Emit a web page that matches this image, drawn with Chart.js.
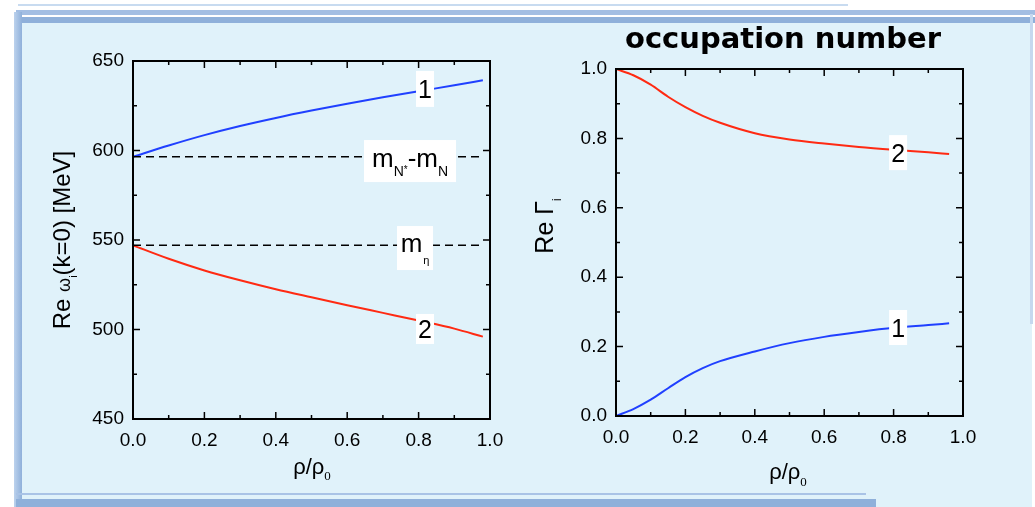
<!DOCTYPE html>
<html>
<head>
<meta charset="utf-8">
<script src="https://cdn.jsdelivr.net/npm/chart.js@4"></script>
<style>
  html, body { margin: 0; padding: 0; background: #fff; }
  body { width: 1035px; height: 507px; position: relative; overflow: hidden; }
  .abs { position: absolute; }
  #panel { left: 20px; top: 22px; width: 1012px; height: 485px; background: #e0f2fa; }
</style>
</head>
<body>
<div id="panel" class="abs"></div>
<!-- sketchy frame -->
<div class="abs" style="left:18px;top:4px;width:830px;height:2px;background:#c8dbf0"></div>
<div class="abs" style="left:16px;top:10px;width:1019px;height:5px;background:#a3bee3"></div>
<div class="abs" style="left:16px;top:17px;width:1019px;height:6px;background:#8fb0da"></div>
<div class="abs" style="left:14px;top:12px;width:8px;height:495px;background:linear-gradient(to right,#bcd2ed,#8fb0da)"></div>
<div class="abs" style="left:16px;top:493px;width:850px;height:2px;background:#a9c3e6"></div>
<div class="abs" style="left:16px;top:499px;width:860px;height:8px;background:#8fb0da"></div>
<div class="abs" style="left:1030px;top:14px;width:3px;height:310px;background:#c5d8ef"></div>

<canvas id="chartL" class="abs" style="left:0;top:0" width="520" height="507"></canvas>
<canvas id="chartR" class="abs" style="left:520px;top:0" width="515" height="507"></canvas>

<script>
// ---- data ----
const rhoL = [0, 0.1, 0.2, 0.3, 0.4, 0.5, 0.6, 0.7, 0.8, 0.9, 0.98];
const omega1 = [596.5, 602.8, 608.6, 613.7, 618.2, 622.3, 626.1, 629.7, 633.1, 636.4, 639.2]; // mode 1 (blue)
const omega2 = [547, 539.5, 533, 527.5, 522.5, 518, 513.6, 509.3, 505, 500.5, 496];           // mode 2 (red)
const rhoDash = [0, 0.98];
const mNstarMinusMN = [596.5, 596.5];
const mEta = [547, 547];

const rhoR = [0, 0.05, 0.1, 0.15, 0.2, 0.25, 0.3, 0.4, 0.5, 0.6, 0.7, 0.8, 0.9, 0.96];
const gamma1 = [0, 0.02, 0.047, 0.08, 0.112, 0.138, 0.158, 0.186, 0.21, 0.228, 0.242, 0.254, 0.262, 0.267];
const gamma2 = [1.0, 0.982, 0.955, 0.92, 0.89, 0.865, 0.845, 0.815, 0.797, 0.785, 0.775, 0.767, 0.76, 0.755];

const BLUE = '#2040ff';
const RED = '#ff2a12';
const SANS = 'Liberation Sans';

const pts = (xs, ys) => xs.map((x, i) => ({ x: x, y: ys[i] }));

// rich text: parts drawn left to right, each with own size and baseline shift
function fontOf(p) {
  return (p.b ? 'bold ' : '') + p.s + 'px "' + (p.f || SANS) + '"';
}
function richWidth(ctx, parts) {
  let w = 0;
  parts.forEach(p => { ctx.font = fontOf(p); w += ctx.measureText(p.t).width + (p.gap || 0); });
  return w;
}
function drawRich(ctx, parts, x, y) {
  parts.forEach(p => {
    ctx.font = fontOf(p);
    ctx.fillText(p.t, x, y + (p.dy || 0));
    x += ctx.measureText(p.t).width + (p.gap || 0);
  });
}

// box frame with inward ticks, axis titles and boxed curve labels
const framePlugin = {
  id: 'frame',
  afterDatasetsDraw(chart, args, o) {
    const { ctx, chartArea: a, scales: { x, y } } = chart;
    ctx.save();
    ctx.strokeStyle = '#000';
    ctx.lineWidth = 1.5;
    ctx.beginPath();
    for (let v = x.min; v <= x.max + 1e-9; v += o.xMinor) {
      const px = x.getPixelForValue(v);
      const major = Math.abs(v / o.xMajor - Math.round(v / o.xMajor)) < 1e-6;
      const len = major ? 7 : 4;
      ctx.moveTo(px, a.bottom); ctx.lineTo(px, a.bottom - len);
      ctx.moveTo(px, a.top); ctx.lineTo(px, a.top + len);
    }
    for (let v = y.min; v <= y.max + 1e-9; v += o.yMinor) {
      const py = y.getPixelForValue(v);
      const major = Math.abs(v / o.yMajor - Math.round(v / o.yMajor)) < 1e-6;
      const len = major ? 7 : 4;
      ctx.moveTo(a.left, py); ctx.lineTo(a.left + len, py);
      ctx.moveTo(a.right, py); ctx.lineTo(a.right - len, py);
    }
    ctx.stroke();
    ctx.lineWidth = 2;
    ctx.strokeRect(a.left, a.top, a.right - a.left, a.bottom - a.top);

    ctx.fillStyle = '#000';
    ctx.textAlign = 'left';
    ctx.textBaseline = 'alphabetic';

    // curve labels in white boxes
    o.labels.forEach(l => {
      const cx = x.getPixelForValue(l.x);
      const cy = y.getPixelForValue(l.y);
      ctx.fillStyle = '#fff';
      ctx.fillRect(cx - l.w / 2, cy - l.h / 2, l.w, l.h);
      ctx.fillStyle = '#000';
      const tw = richWidth(ctx, l.parts);
      drawRich(ctx, l.parts, cx - tw / 2, cy + l.base);
    });

    // y axis title (rotated)
    ctx.save();
    ctx.translate(o.yTitle.x, o.yTitle.y);
    ctx.rotate(-Math.PI / 2);
    const yw = richWidth(ctx, o.yTitle.parts);
    drawRich(ctx, o.yTitle.parts, -yw / 2, o.yTitle.base);
    ctx.restore();

    // x axis title
    const xw = richWidth(ctx, o.xTitle.parts);
    drawRich(ctx, o.xTitle.parts, o.xTitle.x - xw / 2, o.xTitle.y);

    if (o.title) {
      const tw = richWidth(ctx, o.title.parts);
      drawRich(ctx, o.title.parts, o.title.x - tw / 2, o.title.y);
    }
    ctx.restore();
  }
};

function axes(xMin, xMax, xStep, yMin, yMax, yStep, yWidth, xHeight, fmtY) {
  const tickFont = { family: SANS, size: 19 };
  return {
    x: {
      type: 'linear', min: xMin, max: xMax,
      grid: { display: false, drawTicks: false },
      border: { display: false },
      ticks: { stepSize: xStep, padding: 10, color: '#000', font: tickFont, maxRotation: 0,
               callback: v => v.toFixed(1) },
      afterFit: s => { s.height = xHeight; s.paddingLeft = 0; s.paddingRight = 0; }
    },
    y: {
      type: 'linear', min: yMin, max: yMax,
      grid: { display: false, drawTicks: false },
      border: { display: false },
      ticks: { stepSize: yStep, padding: 9, color: '#000', font: tickFont, callback: fmtY },
      afterFit: s => { s.width = yWidth; s.paddingTop = 0; s.paddingBottom = 0; }
    }
  };
}

const lineDefaults = { pointRadius: 0, borderWidth: 2, fill: false, cubicInterpolationMode: 'monotone' };

// ---- left chart: Re omega_i(k=0) ----
new Chart(document.getElementById('chartL'), {
  type: 'line',
  data: {
    datasets: [
      { ...lineDefaults, label: 'mN*-mN', data: pts(rhoDash, mNstarMinusMN), borderColor: '#000', borderWidth: 1.5, borderDash: [8, 5] },
      { ...lineDefaults, label: 'm_eta', data: pts(rhoDash, mEta), borderColor: '#000', borderWidth: 1.5, borderDash: [8, 5] },
      { ...lineDefaults, label: '1', data: pts(rhoL, omega1), borderColor: BLUE },
      { ...lineDefaults, label: '2', data: pts(rhoL, omega2), borderColor: RED }
    ]
  },
  options: {
    responsive: false,
    animation: false,
    layout: { padding: { left: 0, right: 30, top: 61, bottom: 0 } },
    scales: axes(0, 1, 0.2, 450, 650, 50, 133, 88, v => String(v)),
    plugins: {
      legend: { display: false },
      tooltip: { enabled: false },
      frame: {
        xMinor: 0.1, xMajor: 0.2, yMinor: 25, yMajor: 50,
        labels: [
          { x: 0.818, y: 634.4, w: 18, h: 36, base: 9, parts: [{ t: '1', s: 25 }] },
          { x: 0.818, y: 500.3, w: 18, h: 30, base: 9, parts: [{ t: '2', s: 25 }] },
          { x: 0.776, y: 594.1, w: 92, h: 42, base: 6, parts: [
            { t: 'm', s: 26 }, { t: 'N', s: 14, dy: 9 }, { t: '*', s: 10, dy: 6 },
            { t: '-m', s: 26 }, { t: 'N', s: 14, dy: 9 } ] },
          { x: 0.790, y: 545.5, w: 36, h: 44, base: 4, parts: [
            { t: 'm', s: 26, gap: 1 }, { t: 'η', s: 11, dy: 12 } ] }
        ],
        yTitle: { x: 61, y: 240, base: 9, parts: [
          { t: 'Re ', s: 24 }, { t: 'ω', s: 18 }, { t: 'i', s: 11, dy: 7 },
          { t: '(k=0) [MeV]', s: 24 } ] },
        xTitle: { x: 312, y: 474, parts: [
          { t: 'ρ/ρ', s: 22 }, { t: '0', s: 13, dy: 6, f: 'Liberation Serif' } ] }
      }
    }
  },
  plugins: [framePlugin]
});

// ---- right chart: occupation number ----
new Chart(document.getElementById('chartR'), {
  type: 'line',
  data: {
    datasets: [
      { ...lineDefaults, label: '2', data: pts(rhoR, gamma2), borderColor: RED },
      { ...lineDefaults, label: '1', data: pts(rhoR, gamma1), borderColor: BLUE }
    ]
  },
  options: {
    responsive: false,
    animation: false,
    layout: { padding: { left: 0, right: 72, top: 69, bottom: 0 } },
    scales: axes(0, 1, 0.2, 0, 1, 0.2, 96, 91, v => v.toFixed(1)),
    plugins: {
      legend: { display: false },
      tooltip: { enabled: false },
      frame: {
        xMinor: 0.1, xMajor: 0.2, yMinor: 0.1, yMajor: 0.2,
        labels: [
          { x: 0.813, y: 0.759, w: 18, h: 35, base: 9, parts: [{ t: '2', s: 25 }] },
          { x: 0.813, y: 0.255, w: 18, h: 35, base: 9, parts: [{ t: '1', s: 25 }] }
        ],
        yTitle: { x: 24, y: 226, base: 9, parts: [
          { t: 'Re ', s: 25 }, { t: 'Γ', s: 25 }, { t: 'i', s: 12, dy: 8 } ] },
        xTitle: { x: 268, y: 479, parts: [
          { t: 'ρ/ρ', s: 22 }, { t: '0', s: 13, dy: 7, f: 'Liberation Serif' } ] },
        title: { x: 263, y: 48, parts: [{ t: 'occupation number', s: 29, b: true, f: 'DejaVu Sans' }] }
      }
    }
  },
  plugins: [framePlugin]
});
</script>
</body>
</html>
